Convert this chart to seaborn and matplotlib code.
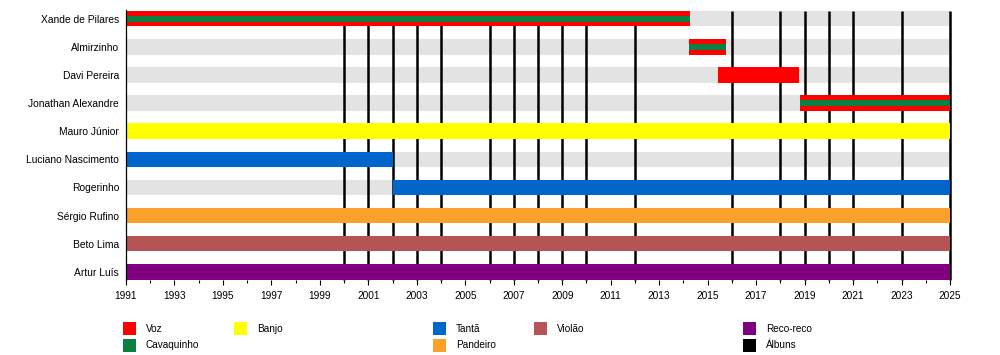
import pandas as pd
import matplotlib.pyplot as plt
from matplotlib.patches import Rectangle
from matplotlib.ticker import MultipleLocator
import seaborn as sns

sns.set_theme(style='white')
plt.rcParams['font.family'] = ['Liberation Sans', 'DejaVu Sans']

# members, top to bottom
members = ['Xande de Pilares', 'Almirzinho', 'Davi Pereira', 'Jonathan Alexandre', 'Mauro Júnior',
           'Luciano Nascimento', 'Rogerinho', 'Sérgio Rufino', 'Beto Lima', 'Artur Luís']
start_year = [1991, 2014.25, 2015.43, 2018.8, 1991, 1991, 2002, 1991, 1991, 1991]
end_year = [2014.27, 2015.76, 2018.77, 2025, 2025, 2002, 2025, 2025, 2025, 2025]
main_role = ['Voz', 'Voz', 'Voz', 'Voz', 'Banjo', 'Tantã', 'Tantã', 'Pandeiro', 'Violão', 'Reco-reco']
second_role = ['Cavaquinho', 'Cavaquinho', None, 'Cavaquinho', None, None, None, None, None, None]

album_years = [2000, 2001, 2002, 2003, 2004, 2006, 2007, 2008, 2009, 2010, 2012,
               2016, 2018, 2019, 2020, 2021, 2023, 2025]

role_colors = {
    'Voz': '#ff0000',
    'Cavaquinho': '#0b8040',
    'Banjo': '#ffff00',
    'Tantã': '#0066cc',
    'Pandeiro': '#f9a12a',
    'Violão': '#b55355',
    'Reco-reco': '#7f007f',
    'Álbuns': '#000000',
}

# legend columns (left px position, entries)
legend_cols = [(123, ['Voz', 'Cavaquinho']), (234, ['Banjo']), (433, ['Tantã', 'Pandeiro']),
               (534, ['Violão']), (743, ['Reco-reco', 'Álbuns'])]

band = pd.DataFrame({'member': members, 'start': start_year, 'end': end_year,
                     'main': main_role, 'second': second_role})
band['row'] = range(len(band))

fig = plt.figure(figsize=(10, 3.55), dpi=100)
ax = fig.add_axes([0.126, 0.2113, 0.824, 0.7606])

bar_h = 0.55
# grey background lanes
ax.barh(band['row'], 2025 - 1991, left=1991, height=bar_h, color='#e3e3e3',
        linewidth=0, zorder=1)

# album lines sit between the lanes and the member bars
ax.vlines(album_years, -0.29, 9.29, color='black', linewidth=1.8, zorder=2, clip_on=False)

ax.barh(band['row'], band['end'] - band['start'], left=band['start'], height=bar_h,
        color=[role_colors[r] for r in band['main']], linewidth=0, zorder=3)
dual = band[band['second'].notna()]
ax.barh(dual['row'], dual['end'] - dual['start'], left=dual['start'], height=0.21,
        color=[role_colors[r] for r in dual['second']], linewidth=0, zorder=4)

ax.set_xlim(1991, 2025)
ax.set_ylim(9.29, -0.31)
ax.set_yticks(band['row'])
ax.set_yticklabels(band['member'], fontsize=7.4, color='black')
ax.tick_params(axis='y', length=0, pad=5)

ax.set_xticks(range(1991, 2026, 2))
ax.set_xticklabels([str(y) for y in range(1991, 2026, 2)])
ax.xaxis.set_minor_locator(MultipleLocator(1))
ax.tick_params(axis='x', which='major', bottom=True, direction='out', length=3.6,
               width=0.8, color='black', labelsize=7.3, labelcolor='black', pad=4)
ax.tick_params(axis='x', which='minor', bottom=True, direction='out', length=1.8,
               width=0.8, color='black')

sns.despine(ax=ax, left=False, bottom=True, top=True, right=True)
ax.spines['left'].set_color('black')
ax.spines['left'].set_linewidth(0.9)
ax.spines['left'].set_zorder(5)

# legend drawn by hand to keep the uneven column spacing
row_y = [328.5, 345.5]
for x_px, names in legend_cols:
    for i, name in enumerate(names):
        y_px = row_y[i]
        fig.add_artist(Rectangle((x_px / 1000, 1 - (y_px + 6.5) / 355), 13 / 1000, 13 / 355,
                                 transform=fig.transFigure, facecolor=role_colors[name],
                                 edgecolor='none'))
        fig.text((x_px + 23) / 1000, 1 - y_px / 355, name, fontsize=7.2, va='center',
                 ha='left', color='black')

plt.savefig('out.png', dpi=100)
plt.close()
